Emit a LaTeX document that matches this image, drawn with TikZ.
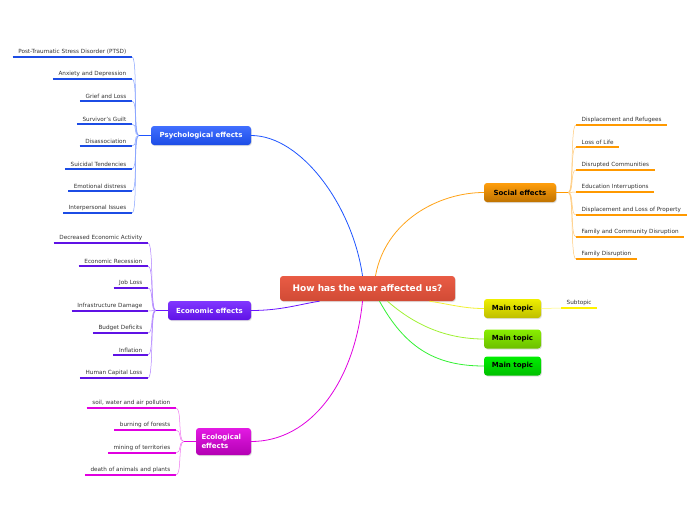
\documentclass[tikz,border=0pt]{standalone}
\usepackage{fontspec}
\setmainfont{DejaVu Sans}
\usetikzlibrary{shapes,positioning,calc,shadows}

\definecolor{rootred}{HTML}{E8533B}
\definecolor{psyblue}{HTML}{1F55FF}
\definecolor{econpurple}{HTML}{6A14FF}
\definecolor{ecomagenta}{HTML}{E000E0}
\definecolor{socorange}{HTML}{FF9900}
\definecolor{topicyellow}{HTML}{EEEE00}
\definecolor{topiclime}{HTML}{88EE00}
\definecolor{topicgreen}{HTML}{00EE00}
\definecolor{leaftext}{HTML}{333333}

\tikzset{
  mainbox/.style={rounded corners=3pt, minimum height=19pt, inner sep=2pt,
    font=\fontsize{7}{8.5}\selectfont\bfseries,
    drop shadow={opacity=0.25, shadow xshift=0.8pt, shadow yshift=-1pt}},
  leaf/.style={inner xsep=5.5pt, inner ysep=2.5pt, text=leaftext,
    font=\fontsize{5.7}{6.5}\selectfont},
  leafline/.style={line width=2.4pt},
  twig/.style={line width=0.5pt},
  branch/.style={line width=0.8pt}
}

\begin{document}
\begin{tikzpicture}[x=1pt, y=-1pt]
    \useasboundingbox (0,0) rectangle (696,520);

    % Central topic
    \node[mainbox, minimum width=175pt, minimum height=25pt, text=white,
      top color=rootred!95!white, bottom color=rootred!90!black,
      font=\fontsize{9}{11}\selectfont\bfseries] (root) at (367.5,288.5) {How has the war affected us?};

    % Main branches
    \node[mainbox, minimum width=100pt, text=white,
      top color=psyblue!85!white, bottom color=psyblue!90!black] (psy) at (201,135.5) {Psychological effects};
    \node[mainbox, minimum width=83pt, text=white,
      top color=econpurple!85!white, bottom color=econpurple!90!black] (econ) at (209.5,310.5) {Economic effects};
    \node[mainbox, minimum width=55pt, minimum height=27pt, text=white, align=left, text width=44pt,
      top color=ecomagenta!90!white, bottom color=ecomagenta!80!black] (eco) at (223.5,441.5) {Ecological\\effects};
    \node[mainbox, minimum width=72pt, text=black,
      top color=socorange!95!white, bottom color=socorange!75!black] (soc) at (520,192.5) {Social effects};
    \node[mainbox, minimum width=57pt, text=black,
      top color=topicyellow, bottom color=topicyellow!80!black] (top1) at (512.5,308.5) {Main topic};
    \node[mainbox, minimum width=57pt, text=black,
      top color=topiclime, bottom color=topiclime!80!black] (top2) at (512.5,339) {Main topic};
    \node[mainbox, minimum width=57pt, text=black,
      top color=topicgreen, bottom color=topicgreen!80!black] (top3) at (512.5,366) {Main topic};

    % Connectors from the central topic
    \draw[branch, psyblue] ([xshift=-5pt]root.north) .. controls +(-10,-70) and +(50,0) .. (psy.east);
    \draw[branch, socorange!90!white] ([xshift=8pt]root.north) .. controls +(10,-55) and +(-45,0) .. (soc.west);
    \draw[branch, econpurple] ([xshift=-48pt]root.south) .. controls +(-20,3) and +(30,0) .. (econ.east);
    \draw[branch, ecomagenta] ([xshift=-5pt]root.south) .. controls +(-8,80) and +(60,0) .. (eco.east);
    \draw[branch, topicyellow!80!white] ([xshift=62pt]root.south) .. controls +(20,3) and +(-20,0) .. (top1.west);
    \draw[branch, topiclime!80!white] ([xshift=20pt]root.south) .. controls +(25,22) and +(-40,0) .. (top2.west);
    \draw[branch, topicgreen!80!white] ([xshift=12pt]root.south) .. controls +(25,45) and +(-50,0) .. (top3.west);

    % Psychological leaves
    \coordinate (psyhub) at ([xshift=-12pt]psy.west);
    \draw[branch, psyblue] (psy.west) -- (psyhub);
    \foreach \y/\txt [count=\i] in {57/{Post-Traumatic Stress Disorder (PTSD)}, 79/{Anxiety and Depression},
        101/{Grief and Loss}, 124/{Survivor's Guilt}, 146/{Disassociation}, 169/{Suicidal Tendencies},
        191/{Emotional distress}, 213/{Interpersonal Issues}} {
        \node[leaf, anchor=south east] (psy\i) at (132,\y) {\txt};
        \draw[leafline, psyblue!90!black] (psy\i.south west) -- (psy\i.south east);
        \draw[twig, psyblue!55] (psyhub) .. controls +(-6,0) and +(6,0) .. (psy\i.south east);
    }

    % Economic leaves
    \coordinate (econhub) at ([xshift=-12pt]econ.west);
    \draw[branch, econpurple] (econ.west) -- (econhub);
    \foreach \y/\txt [count=\i] in {243/{Decreased Economic Activity}, 266/{Economic Recession},
        288/{Job Loss}, 311/{Infrastructure Damage}, 333/{Budget Deficits}, 355/{Inflation},
        378/{Human Capital Loss}} {
        \node[leaf, anchor=south east] (econ\i) at (148,\y) {\txt};
        \draw[leafline, econpurple!90!black] (econ\i.south west) -- (econ\i.south east);
        \draw[twig, econpurple!55] (econhub) .. controls +(-6,0) and +(6,0) .. (econ\i.south east);
    }

    % Ecological leaves
    \coordinate (ecohub) at ([xshift=-12pt]eco.west);
    \draw[branch, ecomagenta] (eco.west) -- (ecohub);
    \foreach \y/\txt [count=\i] in {408/{soil, water and air pollution}, 430/{burning of forests},
        453/{mining of territories}, 475/{death of animals and plants}} {
        \node[leaf, anchor=south east] (eco\i) at (176,\y) {\txt};
        \draw[leafline, ecomagenta] (eco\i.south west) -- (eco\i.south east);
        \draw[twig, ecomagenta!55] (ecohub) .. controls +(-6,0) and +(6,0) .. (eco\i.south east);
    }

    % Social leaves
    \coordinate (sochub) at ([xshift=12pt]soc.east);
    \draw[branch, socorange] (soc.east) -- (sochub);
    \foreach \y/\txt [count=\i] in {125/{Displacement and Refugees}, 147/{Loss of Life},
        170/{Disrupted Communities}, 192/{Education Interruptions}, 215/{Displacement and Loss of Property},
        237/{Family and Community Disruption}, 259/{Family Disruption}} {
        \node[leaf, anchor=south west] (soc\i) at (576,\y) {\txt};
        \draw[leafline, socorange] (soc\i.south west) -- (soc\i.south east);
        \draw[twig, socorange!55] (sochub) .. controls +(6,0) and +(-6,0) .. (soc\i.south west);
    }

    % Subtopic
    \node[leaf, anchor=south west] (sub) at (561,308) {Subtopic};
    \draw[leafline, yellow] (sub.south west) -- (sub.south east);
    \draw[twig, yellow!60] (top1.east) -- (sub.south west);
\end{tikzpicture}
\end{document}
